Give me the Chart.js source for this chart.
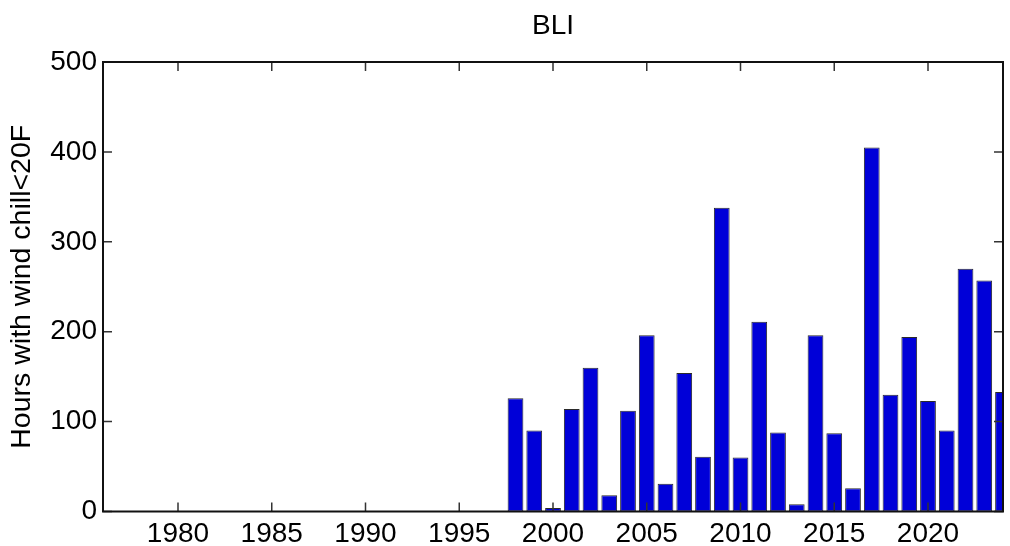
<!DOCTYPE html>
<html>
<head>
<meta charset="utf-8">
<script src="https://cdn.jsdelivr.net/npm/chart.js@4"></script>
<style>
  html, body { margin: 0; padding: 0; background: #fff; }
  canvas { display: block; }
</style>
</head>
<body>
<canvas id="chart" width="1010" height="546"></canvas>
<script>
// values
const years = [1998, 1999, 2000, 2001, 2002, 2003, 2004, 2005, 2006, 2007, 2008, 2009, 2010,
  2011, 2012, 2013, 2014, 2015, 2016, 2017, 2018, 2019, 2020, 2021, 2022, 2023, 2024];
const hours = [126, 90, 4, 114, 160, 18, 112, 196, 31, 154, 61, 338, 60,
  211, 88, 8, 196, 87, 26, 405, 130, 194, 123, 90, 270, 257, 133];
const xTicks = [1980, 1985, 1990, 1995, 2000, 2005, 2010, 2015, 2020];
const yTicks = [0, 100, 200, 300, 400, 500];

const FONT = "'Liberation Sans', Arial, Helvetica, sans-serif";

// box round the plot with inward tick marks on all four sides
const frame = {
  id: "frame",
  afterDatasetsDraw(chart) {
    const { ctx, chartArea: a, scales } = chart;
    const x = scales.x, y = scales.y;
    ctx.save();
    ctx.strokeStyle = "#333";
    ctx.lineWidth = 1.5;
    ctx.beginPath();
    xTicks.forEach((v) => {
      const px = x.getPixelForValue(v);
      ctx.moveTo(px, a.bottom);
      ctx.lineTo(px, a.bottom - 9);
      ctx.moveTo(px, a.top);
      ctx.lineTo(px, a.top + 9);
    });
    yTicks.forEach((v) => {
      const py = y.getPixelForValue(v);
      ctx.moveTo(a.left, py);
      ctx.lineTo(a.left + 9, py);
      ctx.moveTo(a.right, py);
      ctx.lineTo(a.right - 9, py);
    });
    ctx.stroke();
    ctx.strokeStyle = "#111";
    ctx.lineWidth = 2;
    ctx.strokeRect(a.left, a.top, a.right - a.left, a.bottom - a.top);
    ctx.restore();
  },
};

new Chart(document.getElementById("chart").getContext("2d"), {
  type: "bar",
  data: {
    datasets: [
      {
        data: years.map((yr, i) => ({ x: yr, y: hours[i] })),
        backgroundColor: "#0000d8",
        borderColor: "#2a2a2a",
        borderWidth: 1,
        borderSkipped: false,
        categoryPercentage: 1,
        barPercentage: 0.84,
        clip: 0,
      },
    ],
  },
  options: {
    responsive: false,
    animation: false,
    devicePixelRatio: 1,
    layout: { padding: { left: 0, right: 7, top: 0, bottom: 0 } },
    plugins: {
      legend: { display: false },
      tooltip: { enabled: false },
      title: {
        display: true,
        text: "BLI",
        fullSize: false,
        color: "#000",
        font: { family: FONT, size: 28, weight: "normal" },
        padding: { top: 9, bottom: 19.4 },
      },
    },
    scales: {
      x: {
        type: "linear",
        offset: false,
        min: 1976,
        max: 2024,
        afterBuildTicks: (s) => { s.ticks = xTicks.map((v) => ({ value: v })); },
        afterFit: (s) => { s.height = 34.5; },
        grid: { display: false, drawTicks: false, offset: false },
        border: { display: false },
        ticks: {
          color: "#000",
          padding: 6,
          maxRotation: 0,
          autoSkip: false,
          font: { family: FONT, size: 28 },
          callback: (v) => String(v),
        },
      },
      y: {
        min: 0,
        max: 500,
        afterBuildTicks: (s) => { s.ticks = yTicks.map((v) => ({ value: v })); },
        afterFit: (s) => { s.width = 103; },
        grid: { display: false, drawTicks: false },
        border: { display: false },
        ticks: {
          color: "#000",
          padding: 6,
          font: { family: FONT, size: 28 },
        },
        title: {
          display: true,
          text: "Hours with wind chill<20F",
          color: "#000",
          font: { family: FONT, size: 28.5 },
          padding: { top: 5, bottom: 0 },
        },
      },
    },
  },
  plugins: [frame],
});
</script>
</body>
</html>
